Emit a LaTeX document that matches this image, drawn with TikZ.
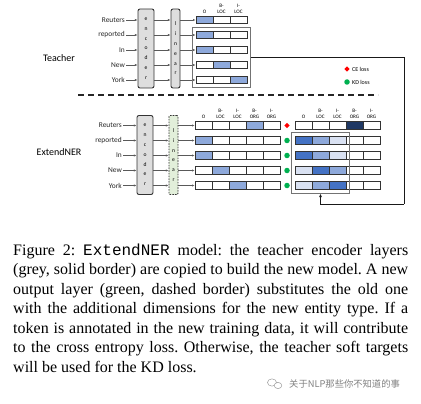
\documentclass[tikz,border=0pt]{standalone}
\usepackage{fontspec}
\setmainfont{Liberation Serif}
\setmonofont{Liberation Mono}
\newfontfamily\diagfont{Carlito}
\newfontfamily\cjkfont{Noto Sans CJK SC}
\usetikzlibrary{arrows.meta, fit, shapes.geometric}
\frenchspacing

\definecolor{lblue}{HTML}{8EA9DB}
\definecolor{mblue}{HTML}{4472C4}
\definecolor{dblue}{HTML}{1F3864}
\definecolor{pblue}{HTML}{D9E1F2}
\definecolor{encgrey}{HTML}{DEDEDE}
\definecolor{lingreen}{HTML}{E2EFDA}
\definecolor{kdgreen}{HTML}{00B050}

\tikzset{
  word/.style={font=\diagfont\fontsize{7.4}{8}\selectfont, text=black!85, anchor=east, inner sep=1pt},
  side/.style={font=\diagfont\fontsize{10}{11}\selectfont, inner sep=0pt},
  layer/.style={draw=black!80, line width=0.9pt, fill=encgrey, rounded corners=2pt,
    minimum height=79pt, inner sep=0pt, align=center,
    font=\diagfont\fontsize{5.6}{9.8}\selectfont},
  newlayer/.style={layer, fill=lingreen, dash pattern=on 1.6pt off 1.1pt, rounded corners=1pt},
  cell/.style={draw=black!80, line width=0.8pt, minimum width=17pt, minimum height=7.5pt, inner sep=0pt},
  head/.style={anchor=south, yshift=2.5pt, align=center, inner sep=0pt,
    font=\diagfont\fontsize{5.2}{6}\selectfont},
  grpbox/.style={draw=black!55, line width=1pt, inner sep=3.5pt},
  arr/.style={-{Latex[length=2.6pt,width=2.2pt]}, draw=black!65, line width=0.6pt},
  feed/.style={-{Latex[length=3.5pt,width=3pt]}, draw=black!90, line width=1pt},
  legtxt/.style={anchor=west, inner sep=0pt, font=\diagfont\fontsize{6}{7}\selectfont},
  capline/.style={anchor=base west, inner sep=0pt, font=\fontsize{16}{19.5}\selectfont},
}

\begin{document}
\begin{tikzpicture}[x=1pt, y=-1pt]
  \useasboundingbox (0,0) rectangle (421,404);

  % Teacher model
  \node[side] (tlabel) at (59,58) {Teacher};
  \node[layer, minimum width=16pt] (tenc) at (146,48.5) {e\\n\\c\\o\\d\\e\\r};
  \node[layer, minimum width=9pt] (tlin) at (175.5,48.5) {l\\i\\n\\e\\a\\r};

  \foreach \r/\w in {1/Reuters, 2/reported, 3/In, 4/New, 5/York} {
    \pgfmathsetmacro\y{20+15*(\r-1)}
    \node[word] (tw\r) at (126,\y) {\w};
  }

  % Teacher output rows (O, B-LOC, I-LOC)
  \foreach \r/\cols in {1/{lblue,white,white}, 2/{lblue,white,white},
                        3/{lblue,white,white}, 4/{white,lblue,white},
                        5/{white,white,lblue}} {
    \pgfmathsetmacro\y{20+15*(\r-1)}
    \foreach \f [count=\c] in \cols
      \node[cell, fill=\f] (t\r\c) at ({196+17*(\c-0.5)},\y) {};
    \draw[arr] (tw\r) -- (tenc.west |- tw\r);
    \draw[arr] (tenc.east |- tw\r) -- (tlin.west |- tw\r);
    \draw[arr] (tlin.east |- t\r1) -- (t\r1.west);
  }
  \foreach \c/\lab in {1/O, 2/{B-\\LOC}, 3/{I-\\LOC}}
    \node[head] (th\c) at (t1\c.north) {\lab};
  \node[grpbox, fit=(t21)(t53)] (tbox) {};

  % Legend
  \node[diamond, fill=red, minimum size=5.5pt, inner sep=0pt] (cedot) at (347,69) {};
  \node[legtxt] (cetxt) at (352,69) {CE loss};
  \node[circle, fill=kdgreen, minimum size=5.5pt, inner sep=0pt] (kddot) at (347,82) {};
  \node[legtxt] (kdtxt) at (352,82) {KD loss};

  % Separator
  \coordinate (sepl) at (78,95);
  \coordinate (sepr) at (378,95);
  \draw[line width=1.3pt, black!85, dash pattern=on 6pt off 4pt] (sepl) -- (sepr);

  % ExtendNER model
  \node[side] (slabel) at (59,152) {ExtendNER};
  \node[layer, minimum width=16pt] (senc) at (145,155) {e\\n\\c\\o\\d\\e\\r};
  \node[newlayer, minimum width=9pt] (slin) at (173.5,155) {l\\i\\n\\e\\a\\r};

  \foreach \r/\w in {1/Reuters, 2/reported, 3/In, 4/New, 5/York} {
    \pgfmathsetmacro\y{125.5+15*(\r-1)}
    \node[word] (sw\r) at (123,\y) {\w};
  }

  % New output rows (O, B-LOC, I-LOC, B-ORG, I-ORG)
  \foreach \r/\cols in {1/{white,white,white,lblue,white}, 2/{lblue,white,white,white,white},
                        3/{lblue,white,white,white,white}, 4/{white,lblue,white,white,white},
                        5/{white,white,lblue,white,white}} {
    \pgfmathsetmacro\y{125.5+15*(\r-1)}
    \foreach \f [count=\c] in \cols
      \node[cell, fill=\f] (s\r\c) at ({195+17*(\c-0.5)},\y) {};
    \draw[arr] (sw\r) -- (senc.west |- sw\r);
    \draw[arr] (senc.east |- sw\r) -- (slin.west |- sw\r);
    \draw[arr] (slin.east |- s\r1) -- (s\r1.west);
  }

  % Soft targets from the teacher
  \foreach \r/\cols in {1/{white,white,white,dblue,white}, 2/{mblue,lblue,pblue,white,white},
                        3/{mblue,lblue,pblue,white,white}, 4/{pblue,mblue,lblue,white,white},
                        5/{pblue,lblue,mblue,white,white}} {
    \pgfmathsetmacro\y{125.5+15*(\r-1)}
    \foreach \f [count=\c] in \cols
      \node[cell, fill=\f] (k\r\c) at ({295+17*(\c-0.5)},\y) {};
  }
  \foreach \c/\lab in {1/O, 2/{B-\\LOC}, 3/{I-\\LOC}, 4/{B-\\ORG}, 5/{I-\\ORG}} {
    \node[head] (sh\c) at (s1\c.north) {\lab};
    \node[head] (kh\c) at (k1\c.north) {\lab};
  }
  \node[grpbox, fit=(k21)(k53)] (kbox) {};

  % Losses
  \node[diamond, fill=red, minimum size=5.5pt, inner sep=0pt] (ce1) at (287,125.5) {};
  \foreach \r in {2,...,5}
    \node[circle, fill=kdgreen, minimum size=5.5pt, inner sep=0pt] (kd\r) at (287,{125.5+15*(\r-1)}) {};

  % Teacher output feeds the soft targets
  \coordinate (turn) at (404,204);
  \draw[feed, -] (tbox.east) -| (turn);
  \draw[feed] (turn) -| (kbox.south);

  % Caption
  \node[capline] (cap1) at (13,255)
    {\makebox[395pt][s]{Figure 2: \texttt{ExtendNER} model: the teacher encoder layers}};
  \node[capline] (cap2) at (13,274.5)
    {\makebox[395pt][s]{(grey, solid border) are copied to build the new model. A new}};
  \node[capline] (cap3) at (13,294)
    {\makebox[395pt][s]{output layer (green, dashed border) substitutes the old one}};
  \node[capline] (cap4) at (13,313.5)
    {\makebox[395pt][s]{with the additional dimensions for the new entity type. If a}};
  \node[capline] (cap5) at (13,333)
    {\makebox[395pt][s]{token is annotated in the new training data, it will contribute}};
  \node[capline] (cap6) at (13,352.5)
    {\makebox[395pt][s]{to the cross entropy loss. Otherwise, the teacher soft targets}};
  \node[capline] (cap7) at (13,372) {will be used for the KD loss.};

  % Watermark
  \draw[black!40, line width=0.5pt] (272,382.5) ellipse (4.5pt and 3.6pt);
  \draw[black!40, line width=0.5pt, fill=white] (278,385.5) ellipse (3.8pt and 3.1pt);
  \node[anchor=west, inner sep=0pt, text=black!50, font=\cjkfont\fontsize{9.3}{10}\selectfont]
    (mark) at (289,384) {关于NLP那些你不知道的事};
\end{tikzpicture}
\end{document}
